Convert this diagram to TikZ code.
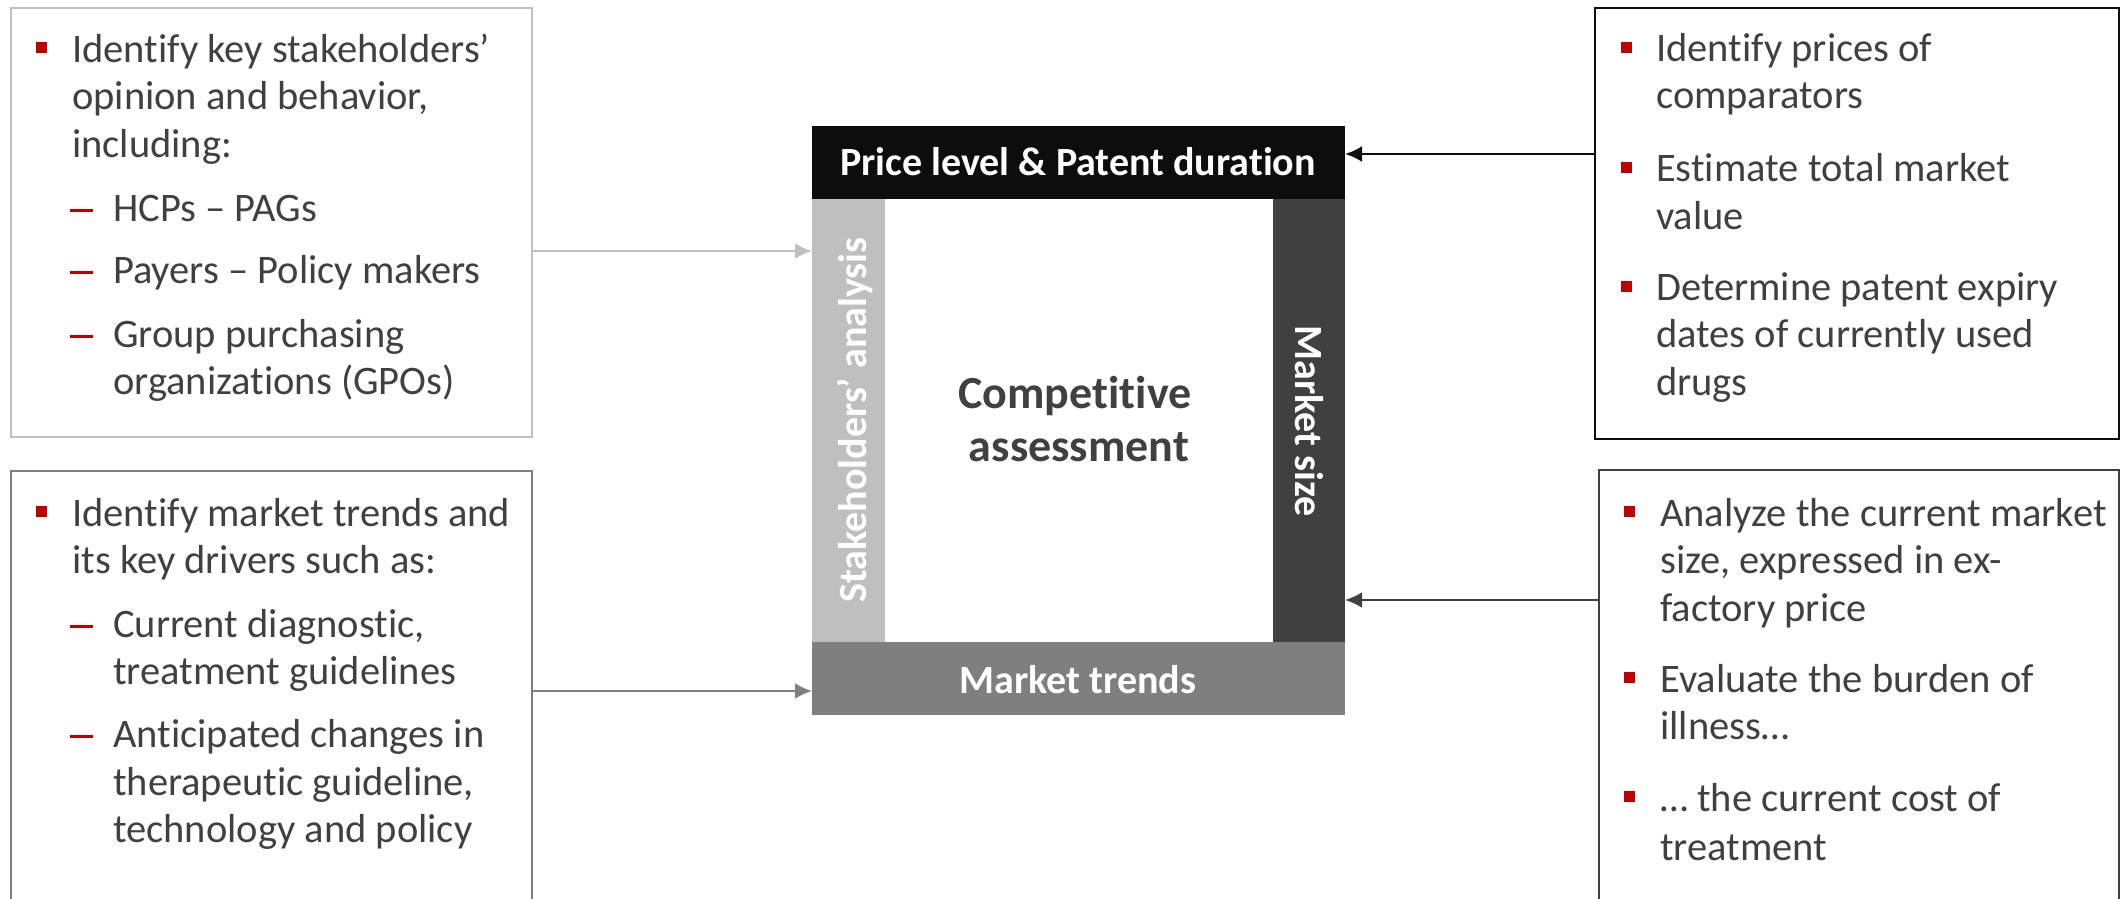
\documentclass[tikz,border=0pt]{standalone}
\usepackage{fontspec}
\setmainfont{Carlito}[Ligatures={NoCommon,NoContextual}]
\usetikzlibrary{arrows.meta}
\definecolor{cblack}{HTML}{0D0D0D}
\definecolor{cdark}{HTML}{404040}
\definecolor{cmid}{HTML}{7F7F7F}
\definecolor{clight}{HTML}{BFBFBF}
\definecolor{cred}{HTML}{C00000}
\definecolor{ctext}{HTML}{404040}
\begin{document}
\begin{tikzpicture}[x=1pt,y=-1pt,
  boxline/.style={draw, line width=2.5pt, inner sep=0pt, outer sep=0pt},
  bar/.style={inner sep=0pt, outer sep=0pt, draw=none},
  bodytxt/.style={anchor=base west, inner sep=0pt, text=ctext, font=\fontsize{40.5}{48}\selectfont},
  dashmark/.style={fill=cred, inner sep=0pt, minimum width=23pt, minimum height=3pt, anchor=west},
  sq/.style={fill=cred, inner sep=0pt, minimum size=11pt},
  bartxt/.style={text=white, inner sep=0pt, font=\bfseries\fontsize{40}{48}\selectfont},
  centertxt/.style={anchor=base, inner sep=0pt, text=ctext, font=\bfseries\fontsize{46}{53}\selectfont},
  conn/.style={line width=2.5pt, -{Latex[length=17pt,width=16pt]}},
]
\useasboundingbox (0,0) rectangle (2123,898);
\clip (0,0) rectangle (2123,898);

% outer boxes
\node[boxline, draw=clight, minimum width=521pt, minimum height=429pt] (tl) at (271.5,222.5) {};
\node[boxline, draw=cmid, minimum width=521pt, minimum height=459pt] (bl) at (271.5,700.5) {};
\node[boxline, draw=cblack, minimum width=524pt, minimum height=431pt] (tr) at (1857,223.5) {};
\node[boxline, draw=cdark, minimum width=520pt, minimum height=460pt] (br) at (1859,700) {};

% central frame
\node[bar, fill=cblack, minimum width=533pt, minimum height=73pt] (topbar) at (1078.5,162.5) {};
\node[bar, fill=cmid, minimum width=533pt, minimum height=73pt] (botbar) at (1078.5,678.5) {};
\node[bar, fill=clight, minimum width=73pt, minimum height=443pt] (leftbar) at (848.5,420.5) {};
\node[bar, fill=cdark, minimum width=72pt, minimum height=443pt] (rightbar) at (1309,420.5) {};

\node[bartxt, anchor=base] (toplab) at (1078,175) {Price level \& Patent duration};
\node[bartxt, anchor=base] (botlab) at (1078,693) {Market trends};
\node[bartxt, anchor=base, rotate=90] (leftlab) at (866,420) {Stakeholders’ analysis};
\node[bartxt, anchor=base, rotate=-90] (rightlab) at (1295,421) {Market size};

\node[centertxt] (ca1) at (1075,408) {Competitive};
\node[centertxt] (ca2) at (1079,461) {assessment};

% connectors
\coordinate (y1) at (0,251);
\coordinate (y2) at (0,691);
\coordinate (y3) at (0,154);
\coordinate (y4) at (0,600);
\draw[conn, clight] (tl.east |- y1) -- (leftbar.west |- y1);
\draw[conn, cmid] (bl.east |- y2) -- (botbar.west |- y2);
\draw[conn, cblack] (tr.west |- y3) -- (topbar.east |- y3);
\draw[conn, cdark] (br.west |- y4) -- (rightbar.east |- y4);

% top-left text
\node[sq] (tlsq1) at (41,47) {};
\node[bodytxt] (tl1) at (72,62) {Identify key stakeholders’};
\node[bodytxt] (tl2) at (72,109) {opinion and behavior,};
\node[bodytxt] (tl3) at (72,157) {including:};
\node[dashmark] (tld1) at (70,210) {};
\node[bodytxt] (tl4) at (113,221) {HCPs – PAGs};
\node[dashmark] (tld2) at (70,272) {};
\node[bodytxt] (tl5) at (113,283) {Payers – Policy makers};
\node[dashmark] (tld3) at (70,336) {};
\node[bodytxt] (tl6) at (113,347) {Group purchasing};
\node[bodytxt] (tl7) at (113,394) {organizations (GPOs)};

% bottom-left text
\node[sq] (blsq1) at (41,511) {};
\node[bodytxt] (bl1) at (72,526) {Identify market trends and};
\node[bodytxt] (bl2) at (72,573) {its key drivers such as:};
\node[dashmark] (bld1) at (70,626) {};
\node[bodytxt] (bl3) at (113,637) {Current diagnostic,};
\node[bodytxt] (bl4) at (113,684) {treatment guidelines};
\node[dashmark] (bld2) at (70,736) {};
\node[bodytxt] (bl5) at (113,747) {Anticipated changes in};
\node[bodytxt] (bl6) at (113,795) {therapeutic guideline,};
\node[bodytxt] (bl7) at (113,842) {technology and policy};

% top-right text
\node[sq] (trsq1) at (1626,47) {};
\node[bodytxt] (tr1) at (1656,61) {Identify prices of};
\node[bodytxt] (tr2) at (1656,108) {comparators};
\node[sq] (trsq2) at (1626,167) {};
\node[bodytxt] (tr3) at (1656,181) {Estimate total market};
\node[bodytxt] (tr4) at (1656,229) {value};
\node[sq] (trsq3) at (1626,286) {};
\node[bodytxt] (tr5) at (1656,300) {Determine patent expiry};
\node[bodytxt] (tr6) at (1656,347) {dates of currently used};
\node[bodytxt] (tr7) at (1656,395) {drugs};

% bottom-right text
\node[sq] (brsq1) at (1629,511) {};
\node[bodytxt] (br1) at (1660,526) {Analyze the current market};
\node[bodytxt] (br2) at (1660,573) {size, expressed in ex-};
\node[bodytxt] (br3) at (1660,621) {factory price};
\node[sq] (brsq2) at (1629,677) {};
\node[bodytxt] (br4) at (1660,692) {Evaluate the burden of};
\node[bodytxt] (br5) at (1660,739) {illness…};
\node[sq] (brsq3) at (1629,796) {};
\node[bodytxt] (br6) at (1660,811) {… the current cost of};
\node[bodytxt] (br7) at (1660,860) {treatment};
\end{tikzpicture}
\end{document}
